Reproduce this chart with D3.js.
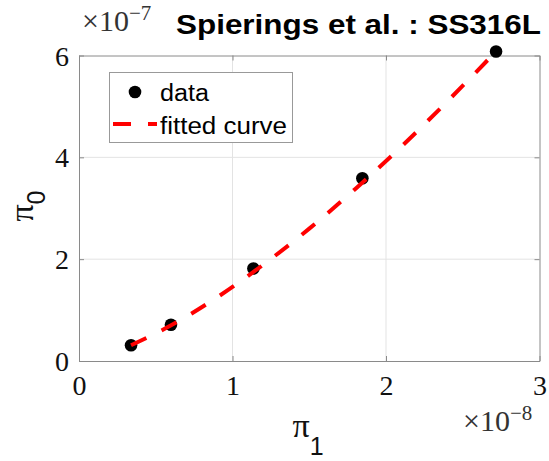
<!DOCTYPE html>
<html><head><meta charset="utf-8">
<script src="https://cdn.jsdelivr.net/npm/d3@7"></script>
<style>body{margin:0;background:#fff}svg{display:block}
.serif{font-family:"Liberation Serif","DejaVu Serif",serif}
.sans{font-family:"Liberation Sans",Arial,sans-serif}
</style>
</head><body>
<script>
// data (π1 in units of 1e-8, π0 in units of 1e-7)
const dataX = [0.339, 0.599, 1.136, 1.846, 2.717];
const dataY = [0.308, 0.712, 1.818, 3.588, 6.08];
// fitted curve
const fitX = [0.339, 0.6, 0.9, 1.2, 1.5, 1.8, 2.1, 2.4, 2.717];
const fitY = [0.31, 0.70, 1.25, 1.89, 2.60, 3.38, 4.21, 5.10, 6.08];
const xTicks = [0, 1, 2, 3];
const yTicks = [0, 2, 4, 6];
const title = "Spierings et al. : SS316L";
const legendLabels = ["data", "fitted curve"];

const W = 549, H = 461;
const svg = d3.select("body").append("svg").attr("width", W).attr("height", H);
const x = d3.scaleLinear().domain([0, 3]).range([79, 539.5]);
const y = d3.scaleLinear().domain([0, 6]).range([361, 55.5]);
const axisCol = "#8a8a8a", gridCol = "#e3e3e3";

// grid
svg.append("g").selectAll("line").data(xTicks.slice(1, -1)).join("line")
  .attr("x1", d => x(d)).attr("x2", d => x(d)).attr("y1", y(0)).attr("y2", y(6))
  .attr("stroke", gridCol).attr("stroke-width", 1);
svg.append("g").selectAll("line").data(yTicks.slice(1, -1)).join("line")
  .attr("y1", d => y(d)).attr("y2", d => y(d)).attr("x1", x(0)).attr("x2", x(3))
  .attr("stroke", gridCol).attr("stroke-width", 1);

// axes
const fmt = d => String(d);
const gx = svg.append("g").attr("transform", `translate(0,${y(0)})`)
  .call(d3.axisBottom(x).tickValues(xTicks).tickSize(-5).tickSizeOuter(0).tickPadding(14).tickFormat(fmt));
const gxt = svg.append("g").attr("transform", `translate(0,${y(6)})`)
  .call(d3.axisTop(x).tickValues(xTicks).tickSize(-5).tickSizeOuter(0).tickFormat(""));
const gy = svg.append("g").attr("transform", `translate(${x(0)},0)`)
  .call(d3.axisLeft(y).tickValues(yTicks).tickSize(-5).tickSizeOuter(0).tickPadding(10).tickFormat(fmt));
const gyr = svg.append("g").attr("transform", `translate(${x(3)},0)`)
  .call(d3.axisRight(y).tickValues(yTicks).tickSize(-5).tickSizeOuter(0).tickFormat(""));
[gx, gxt, gy, gyr].forEach(g => {
  g.attr("font-size", null).attr("font-family", null);
  g.selectAll("path,line").attr("stroke", axisCol).attr("stroke-width", 1);
  g.selectAll("text").attr("fill", "#111").attr("class", "serif").style("font-size", "28px");
});
gx.selectAll("text").attr("dy", "0.71em");
gy.selectAll("text").attr("dy", "0.34em");

// markers
svg.append("g").selectAll("circle").data(dataX.map((d, i) => [d, dataY[i]])).join("circle")
  .attr("cx", d => x(d[0])).attr("cy", d => y(d[1])).attr("r", 6.3).attr("fill", "#000");

// fitted curve
const line = d3.line().x(d => x(d[0])).y(d => y(d[1])).curve(d3.curveMonotoneX);
svg.append("path").datum(fitX.map((d, i) => [d, fitY[i]])).attr("d", line)
  .attr("fill", "none").attr("stroke", "#ff0000").attr("stroke-width", 4)
  .attr("stroke-dasharray", "17,17");

// exponent labels
function expLabel(px, py, exp) {
  const t = svg.append("text").attr("x", px).attr("y", py).attr("class", "serif")
    .style("font-size", "30px").attr("fill", "#333");
  t.append("tspan").text("×10");
  t.append("tspan").attr("dy", -11).style("font-size", "21px").text("−" + exp);
}
expLabel(82, 31, 7);
expLabel(463, 431, 8);

// title
svg.append("text").attr("x", 176).attr("y", 34).text(title).attr("class", "sans")
  .style("font-weight", "bold").style("font-size", "28px")
  .attr("textLength", 365).attr("lengthAdjust", "spacingAndGlyphs").attr("fill", "#000");

// axis labels
const xl = svg.append("text").attr("x", 308).attr("y", 437).attr("text-anchor", "middle").attr("fill", "#111");
xl.append("tspan").attr("class", "serif").style("font-size", "34px").text("π");
xl.append("tspan").attr("dy", 18).attr("class", "sans").style("font-size", "25px").text("1");

const yl = svg.append("text").attr("transform", "translate(33,206) rotate(-90)").attr("text-anchor", "middle").attr("fill", "#111");
yl.append("tspan").attr("class", "serif").style("font-size", "34px").text("π");
yl.append("tspan").attr("dy", 12).attr("class", "sans").style("font-size", "25px").text("0");

// legend
const lg = svg.append("g");
lg.append("rect").attr("x", 109.5).attr("y", 72.5).attr("width", 183).attr("height", 70)
  .attr("fill", "#fff").attr("stroke", "#999").attr("stroke-width", 1);
lg.append("circle").attr("cx", 135).attr("cy", 92).attr("r", 6.3).attr("fill", "#000");
lg.append("line").attr("x1", 113).attr("x2", 157).attr("y1", 124).attr("y2", 124)
  .attr("stroke", "#ff0000").attr("stroke-width", 4).attr("stroke-dasharray", "18,17");
lg.append("text").attr("x", 160).attr("y", 101).text(legendLabels[0]).attr("class", "sans")
  .style("font-size", "23px").attr("textLength", 49).attr("lengthAdjust", "spacingAndGlyphs");
lg.append("text").attr("x", 160).attr("y", 134).text(legendLabels[1]).attr("class", "sans")
  .style("font-size", "23px").attr("textLength", 127).attr("lengthAdjust", "spacingAndGlyphs");
</script>
</body></html>
